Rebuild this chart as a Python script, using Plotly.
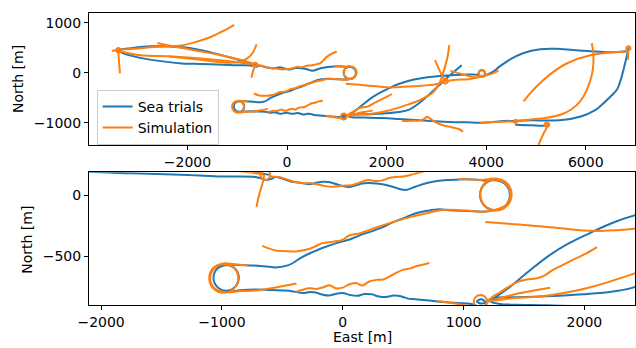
import plotly.graph_objects as go

BLUE = "#1f77b4"
ORANGE = "#ff7f0e"
FONT = "DejaVu Sans"

# ---------------- Sea trials track (east [m], north [m]) ----------------
sea_track = [
    (-610, 165), (-700, 185), (-850, 230), (-1085, 294), (-1300, 350), (-1547, 414), (-1800, 470),
    (-2090, 514), (-2400, 530), (-2752, 534), (-3100, 500), (-3389, 454),
    (-3320, 405), (-2953, 300), (-2411, 220), (-2108, 190), (-1748, 178), (-1278, 164), (-1004, 152),
    (-722, 148), (-670, 135), (-630, 124), (-590, 132), (-556, 148),
    (-500, 135), (-430, 110), (-340, 98), (-280, 88), (-224, 98), (-170, 108), (-116, 106), (-50, 88),
    (0, 74), (50, 66), (110, 80), (160, 95), (216, 98), (280, 94), (340, 86), (420, 66), (470, 50),
    (523, 42), (600, 68), (690, 96), (780, 114), (880, 123), (1021, 130), (1120, 126), (1190, 117),
    (1260, 123), (1347, 87), (1383, 0), (1347, -87), (1260, -123), (1173, -87), (1137, 0), (1173, 87),
    (1260, 123), (1347, 87), (1383, 0), (1347, -87), (1260, -123),
    (1162, -135), (1050, -130), (880, -123), (797, -116), (700, -128), (606, -148), (500, -190),
    (400, -228), (332, -262), (250, -292), (150, -325), (50, -365), (-50, -392), (-174, -434),
    (-260, -470), (-340, -508), (-448, -572), (-556, -590), (-680, -578), (-780, -574), (-900, -568),
    (-965, -570),
    (-1039, -601), (-1070, -675), (-1039, -749), (-965, -780), (-891, -749), (-860, -675), (-891, -601),
    (-965, -570), (-1039, -601), (-1070, -675), (-1039, -749), (-950, -787),
    (-850, -777), (-722, -771), (-600, -775), (-448, -780), (-390, -790), (-330, -800), (-270, -790),
    (-224, -795), (-170, -812), (-116, -820), (-50, -805), (0, -800), (60, -815), (120, -822),
    (180, -808), (240, -810), (300, -828), (360, -832), (420, -820), (480, -825), (540, -845),
    (600, -850), (714, -861), (880, -877), (1046, -886),
    (1100, -900), (1135, -935), (1175, -915), (1180, -875), (1145, -850), (1110, -868), (1150, -885),
    (1230, -855),
    (1300, -808), (1378, -754), (1530, -630), (1710, -492), (1870, -395), (2042, -312), (2230, -228),
    (2430, -162), (2700, -108), (2970, -74), (3300, -48), (3640, -34), (3840, -40),
    (3910, -77), (3956, -58), (3975, -12), (3956, 34), (3910, 53), (3864, 34), (3845, -12), (3864, -58),
    (3920, -80), (4000, -45),
    (4140, 25), (4280, 134), (4500, 280), (4740, 394), (5085, 474), (5400, 482), (5750, 456),
    (6100, 434), (6430, 414), (6700, 424), (6830, 440), (6857, 494),
    (6845, 430), (6820, 320), (6790, 194), (6720, -80), (6630, -330), (6523, -450), (6300, -660),
    (6189, -746), (5900, -875), (5520, -946), (4900, -952), (4584, -958), (4183, -980), (3940, -998),
    (3600, -992), (3256, -985), (2900, -965), (2593, -946), (2250, -925), (1930, -906), (1650, -898),
    (1436, -895), (1300, -888),
    (1225, -868), (1260, -840), (1400, -833), (1635, -828), (1992, -810), (2250, -785), (2440, -742),
    (2650, -610), (2850, -440), (3050, -255), (3250, -70), (3400, 60), (3508, 154),
]
sea_stub = [(4584, -1040), (4900, -1052), (5186, -1058), (5215, -1045)]

# ---------------- Simulation runs (east [m], north [m]) ----------------
sim_01 = [(-3520, 440), (-3389, 462), (-3000, 490), (-2752, 512), (-2400, 532), (-2090, 555),
          (-1800, 628), (-1547, 714), (-1300, 830), (-1060, 964)]
sim_02 = [(-3410, 470), (-3390, 400), (-3380, 300), (-3370, 160), (-3360, 40), (-3355, -10)]
sim_03 = [(-3389, 499), (-3357, 486), (-3344, 454), (-3357, 422), (-3389, 409), (-3421, 422),
          (-3434, 454), (-3421, 486), (-3389, 499)]
sim_04 = [(-3389, 440), (-2939, 354), (-2371, 334), (-1735, 288), (-1067, 222), (-863, 196),
          (-722, 178), (-660, 168)]
sim_05 = [(-2604, 600), (-2403, 554), (-1870, 454), (-1334, 354), (-798, 222), (-680, 180)]
sim_06 = [(-2371, 330), (-1735, 262), (-1200, 205), (-950, 218), (-800, 290), (-698, 388), (-612, 574)]
sim_07 = [(-640, 204), (-612, 192), (-600, 164), (-612, 136), (-640, 124), (-668, 136), (-680, 164),
          (-668, 192), (-640, 204)]
sim_08 = [(-650, 170), (-660, 110), (-690, 10), (-714, -98)]
sim_09 = [(-600, 152), (-531, 148), (-460, 128), (-390, 106), (-320, 96), (-270, 98), (-224, 90),
          (-160, 76), (-100, 68), (-40, 72), (20, 78), (60, 78), (120, 95), (170, 114), (216, 123),
          (270, 114), (330, 120), (382, 139), (440, 148), (500, 152), (560, 164), (620, 180),
          (664, 192), (720, 240), (797, 320), (900, 385), (997, 428)]
sim_10 = [(955, 131), (1050, 128), (1150, 124), (1268, 135), (1360, 97), (1398, 5), (1360, -87),
          (1268, -125), (1176, -87), (1138, 5), (1176, 97), (1268, 125), (1353, 90), (1388, 5),
          (1353, -80), (1268, -118), (1162, -136), (1050, -128), (971, -123), (805, -123), (697, -148),
          (556, -180), (415, -221), (282, -262), (200, -292), (143, -311), (55, -330), (-3, -365),
          (-80, -380), (-169, -392), (-230, -420), (-279, -440), (-389, -460), (-470, -458),
          (-555, -452), (-666, -414)]
sim_11 = [(-780, -574), (-900, -565), (-985, -558), (-1070, -593), (-1105, -678), (-1070, -763),
          (-985, -798), (-900, -763), (-865, -678), (-900, -593), (-985, -566), (-1064, -599),
          (-1097, -678), (-1064, -757), (-975, -792), (-850, -783), (-722, -779), (-556, -754),
          (-382, -722)]
sim_12 = [(-389, -790), (-330, -772), (-279, -760), (-220, -766), (-160, -752), (-111, -735),
          (-58, -760), (0, -755), (52, -730), (110, -718), (162, -738), (220, -705), (280, -692),
          (331, -690), (414, -650), (497, -610), (560, -598), (607, -581), (660, -568), (717, -554)]
sim_13 = [(1180, -220), (1530, -246), (1800, -271), (2075, -292), (2440, -274), (2700, -256),
          (2970, -232), (3180, -170)]
sim_14 = [(1230, -865), (1400, -842), (1635, -828), (2000, -765), (2440, -631), (2700, -530),
          (2935, -390), (3050, -230), (3120, -50), (3180, 150), (3230, 350), (3258, 554)]
sim_15 = [(2971, 254), (3040, 100), (3110, -50), (3180, -166)]
sim_16 = [(3180, -116), (3215, -131), (3230, -166), (3215, -201), (3180, -216), (3145, -201),
          (3130, -166), (3145, -131), (3180, -116)]
sim_17 = [(3180, -166), (3400, -140), (3647, -126), (3830, -88), (3915, -73), (3961, -54), (3980, -8),
          (3961, 38), (3915, 57), (3869, 38), (3850, -8), (3869, -54), (3915, -73), (3990, -50),
          (4148, -6), (4249, 48)]
sim_18 = [(3280, 40), (3500, -20), (3760, -90), (3850, -85)]
sim_19 = [(4750, -573), (4900, -390), (5085, -203), (5350, 20), (5628, 193), (6090, 352),
          (6553, 411), (6800, 432), (6857, 480)]
sim_20 = [(6857, 534), (6885, 522), (6897, 494), (6885, 466), (6857, 454), (6829, 466), (6817, 494),
          (6829, 522), (6857, 534)]
sim_21 = [(6857, 470), (6852, 380), (6845, 260)]
sim_22 = [(4584, -975), (4851, -940), (5220, -900), (5520, -830), (5700, -740), (5888, -572),
          (6022, -340), (6120, -50), (6154, 194), (6150, 400), (6122, 594)]
sim_23 = [(5220, -995), (5252, -1008), (5265, -1040), (5252, -1072), (5220, -1085), (5188, -1072),
          (5175, -1040), (5188, -1008), (5220, -995), (5230, -1060), (5160, -1200), (5100, -1330),
          (5045, -1465)]
sim_24 = [(2311, -966), (2500, -960), (2712, -946), (2770, -905), (2812, -882), (2860, -905),
          (2913, -946), (3113, -1046), (3300, -1090), (3447, -1126), (3534, -1180)]
sim_25 = [(3868, -1000), (4183, -985), (4450, -975), (4555, -975), (4590, -940), (4625, -975),
          (4590, -1010), (4555, -975), (4600, -960), (4700, -970)]
sim_26 = [(778, -865), (900, -880), (1046, -905), (1101, -920), (1140, -925), (1179, -909),
          (1195, -870), (1179, -831), (1140, -815), (1101, -831), (1085, -870), (1101, -909),
          (1140, -925), (1179, -909), (1195, -870), (1240, -830), (1300, -795), (1358, -757),
          (1440, -712), (1523, -689), (1600, -680), (1661, -662), (1740, -610), (1799, -581),
          (1909, -527), (2020, -473), (2103, -424)]
sim_27 = [(1195, -870), (1400, -815), (1550, -785), (1718, -757)]

sea_runs = [sea_track, sea_stub]
sim_runs = [sim_01, sim_02, sim_03, sim_04, sim_05, sim_06, sim_07, sim_08, sim_09, sim_10,
            sim_11, sim_12, sim_13, sim_14, sim_15, sim_16, sim_17, sim_18, sim_19, sim_20,
            sim_21, sim_22, sim_23, sim_24, sim_25, sim_26, sim_27]

# axis settings
top_x_ticks = [-2000, 0, 2000, 4000, 6000]
top_y_ticks = [-1000, 0, 1000]
bot_x_ticks = [-2000, -1000, 0, 1000, 2000]
bot_y_ticks = [-500, 0]
top_x_range = [-3978, 6989]
top_y_range = [-1446, 1200]
bot_x_range = [-2100, 2419]
bot_y_range = [-897, 186]


def join(runs):
    xs, ys = [], []
    for r in runs:
        xs += [p[0] for p in r] + [None]
        ys += [p[1] for p in r] + [None]
    return xs, ys


sea_x, sea_y = join(sea_runs)
sim_x, sim_y = join(sim_runs)

fig = go.Figure()
for xa, ya, show in [("x", "y", True), ("x2", "y2", False)]:
    fig.add_trace(go.Scatter(x=sea_x, y=sea_y, mode="lines", name="Sea trials",
                             line=dict(color=BLUE, width=2, shape="spline", smoothing=1),
                             xaxis=xa, yaxis=ya, showlegend=show, legendrank=1))
for xa, ya, show in [("x", "y", True), ("x2", "y2", False)]:
    fig.add_trace(go.Scatter(x=sim_x, y=sim_y, mode="lines", name="Simulation",
                             line=dict(color=ORANGE, width=2, shape="spline", smoothing=1),
                             xaxis=xa, yaxis=ya, showlegend=show, legendrank=2))

axis_common = dict(showline=True, linecolor="black", linewidth=1, mirror=True,
                   ticks="outside", ticklen=4, tickwidth=1, tickcolor="black",
                   showgrid=False, zeroline=False,
                   tickfont=dict(family=FONT, size=14, color="black"))

label_font = dict(family=FONT, size=14, color="black")

fig.update_layout(
    width=636, height=348,
    margin=dict(l=89, r=1, t=13, b=43),
    plot_bgcolor="white", paper_bgcolor="white",
    font=dict(family=FONT, size=14, color="black"),
    xaxis=dict(domain=[0, 1], anchor="y", range=top_x_range, tickvals=top_x_ticks, **axis_common),
    yaxis=dict(domain=[0.548, 1], anchor="x", range=top_y_range, tickvals=top_y_ticks, **axis_common),
    xaxis2=dict(domain=[0, 1], anchor="y2", range=bot_x_range, tickvals=bot_x_ticks, **axis_common),
    yaxis2=dict(domain=[0, 0.4545], anchor="x2", range=bot_y_range, tickvals=bot_y_ticks, **axis_common),
    legend=dict(x=0.014, y=0.737, xanchor="left", yanchor="top",
                bgcolor="rgba(255,255,255,0.8)", bordercolor="#cccccc", borderwidth=1,
                tracegroupgap=0, font=dict(family=FONT, size=14, color="black")),
    showlegend=True,
    annotations=[
        dict(text="North [m]", x=-0.130, y=0.774, xref="paper", yref="paper", showarrow=False,
             xanchor="center", yanchor="middle", textangle=-90, font=label_font),
        dict(text="North [m]", x=-0.114, y=0.2226, xref="paper", yref="paper", showarrow=False,
             xanchor="center", yanchor="middle", textangle=-90, font=label_font),
        dict(text="East [m]", x=0.5, y=-0.110, xref="paper", yref="paper", showarrow=False,
             xanchor="center", yanchor="middle", font=label_font),
    ],
)

fig.write_html("out.html")
